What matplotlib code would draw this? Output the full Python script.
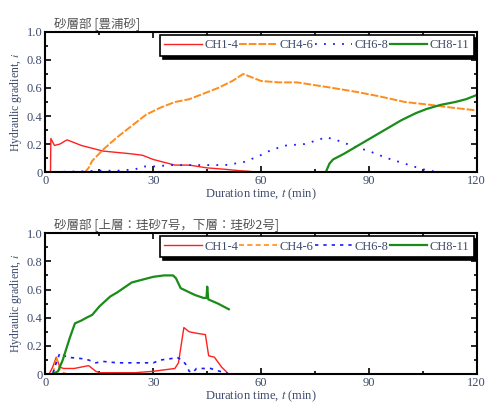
import matplotlib.pyplot as plt
from matplotlib.ticker import MultipleLocator

plt.rcParams['font.family'] = ['Liberation Serif', 'Noto Sans CJK JP']
plt.rcParams['mathtext.fontset'] = 'stix'

TEXT_COLOR = "#3d4a6b"

# upper panel: Toyoura sand
top_title = "砂層部 [豊浦砂]"
top_ch1_4_t = [0, 1.4, 1.5, 2.5, 4, 6, 8, 10, 13, 16, 20, 24, 27, 30, 33, 36, 40, 45, 50, 54, 57, 58]
top_ch1_4_v = [0, 0, 0.24, 0.19, 0.2, 0.23, 0.21, 0.19, 0.17, 0.15, 0.14, 0.13, 0.12, 0.09, 0.07, 0.05, 0.05, 0.03, 0.02, 0.01, 0.005, 0]
top_ch4_6_t = [0, 11, 12, 13, 16, 20, 24, 28, 32, 36, 40, 44, 48, 52, 55, 57, 60, 65, 70, 75, 80, 87, 93, 100, 107, 113, 120]
top_ch4_6_v = [0, 0, 0.03, 0.08, 0.16, 0.25, 0.33, 0.41, 0.46, 0.5, 0.52, 0.56, 0.6, 0.65, 0.7, 0.68, 0.65, 0.64, 0.64, 0.62, 0.6, 0.57, 0.54, 0.5, 0.48, 0.46, 0.44]
top_ch6_8_t = [0, 10, 15, 20, 25, 27, 30, 35, 40, 45, 50, 55, 59, 63, 67, 72, 76, 78, 82, 85, 90, 95, 100, 105, 108, 110]
top_ch6_8_v = [0, 0.005, 0.01, 0.01, 0.02, 0.04, 0.04, 0.05, 0.05, 0.05, 0.05, 0.07, 0.11, 0.16, 0.19, 0.2, 0.23, 0.25, 0.22, 0.19, 0.15, 0.1, 0.06, 0.02, 0.005, 0]
top_ch8_11_t = [0, 78, 79, 80, 83, 87, 91, 95, 99, 103, 106, 110, 114, 117, 120]
top_ch8_11_v = [0, 0, 0.06, 0.09, 0.13, 0.19, 0.25, 0.31, 0.37, 0.42, 0.45, 0.48, 0.5, 0.52, 0.55]

# lower panel: two-layer silica sand
bot_title = "砂層部 [上層：珪砂7号，下層：珪砂2号]"
bot_ch1_4_t = [0, 1, 2, 3, 4, 5, 8, 10, 12, 14, 15, 20, 25, 30, 33, 36, 37, 38.5, 40, 42, 44.5, 45.4, 47, 49, 51]
bot_ch1_4_v = [0, 0, 0.05, 0.12, 0.05, 0.04, 0.04, 0.05, 0.06, 0.02, 0.01, 0.01, 0.01, 0.02, 0.03, 0.04, 0.08, 0.33, 0.3, 0.29, 0.28, 0.13, 0.12, 0.05, 0]
bot_ch4_6_t = [0, 2, 2.5, 3, 3.5, 4, 5, 6]
bot_ch4_6_v = [0, 0, 0.05, 0.12, 0.08, 0.03, 0.01, 0]
bot_ch6_8_t = [0, 2, 3, 4, 6, 10, 12, 14, 16, 20, 25, 30, 32, 35, 36.5, 38, 39, 40, 41, 42, 46, 47, 50, 51]
bot_ch6_8_v = [0, 0, 0.08, 0.15, 0.12, 0.11, 0.1, 0.08, 0.09, 0.08, 0.08, 0.08, 0.1, 0.11, 0.12, 0.1, 0.07, 0.02, 0.01, 0.04, 0.04, 0.03, 0.01, 0]
bot_ch8_11_t = [0, 2, 3.5, 4.8, 6.8, 8.2, 10, 11.4, 13, 15, 18, 20, 24, 27, 30, 33, 35.5, 36.3, 37.6, 40, 41.7, 44, 44.8, 45, 45.3, 48, 51]
bot_ch8_11_v = [0, 0, 0.02, 0.1, 0.26, 0.36, 0.38, 0.4, 0.42, 0.48, 0.55, 0.58, 0.65, 0.67, 0.69, 0.7, 0.7, 0.68, 0.61, 0.58, 0.56, 0.54, 0.54, 0.62, 0.53, 0.5, 0.46]

labels = ["CH1-4", "CH4-6", "CH6-8", "CH8-11"]
colors = ["#ff2020", "#ff8c1a", "#1a1aff", "#1a8c1a"]


def style_axes(ax, title):
    ax.set_xlim(0, 120)
    ax.set_ylim(0, 1.0)
    ax.xaxis.set_major_locator(MultipleLocator(30))
    ax.xaxis.set_minor_locator(MultipleLocator(15))
    ax.yaxis.set_major_locator(MultipleLocator(0.2))
    ax.yaxis.set_minor_locator(MultipleLocator(0.1))
    ax.tick_params(which="both", direction="in", top=True, right=True,
                   colors="black", labelcolor=TEXT_COLOR, labelsize=9, width=1.2)
    ax.tick_params(which="major", length=4, pad=2)
    ax.tick_params(which="minor", length=2.5)
    ax.set_yticks([0, 0.2, 0.4, 0.6, 0.8, 1.0], ["0", "0.2", "0.4", "0.6", "0.8", "1.0"])
    for s in ax.spines.values():
        s.set_linewidth(1.5)
    ax.set_xlabel("Duration time, $t$ (min)", color=TEXT_COLOR, fontsize=9, labelpad=0)
    ax.set_ylabel("Hydraulic gradient, $i$", color=TEXT_COLOR, fontsize=8.5, labelpad=2)
    ax.set_title(title, loc="left", color="#555555", fontsize=9, pad=3,
                 family=['Noto Sans CJK JP', 'Liberation Serif'], x=0.02)


def add_legend(ax):
    leg = ax.legend(loc="upper right", ncol=4, fontsize=9, frameon=True, fancybox=False,
                    shadow={"color": "black", "alpha": 1.0}, edgecolor="black",
                    handlelength=3.0, handletextpad=0.2, columnspacing=0.1,
                    borderaxespad=0.25, borderpad=0.35, labelcolor=TEXT_COLOR)
    leg.get_frame().set_linewidth(1.2)


fig = plt.figure(figsize=(4.89, 4.04), dpi=100)
ax1 = fig.add_axes([0.093, 0.574, 0.882, 0.347])
ax2 = fig.add_axes([0.093, 0.074, 0.882, 0.349])

ax1.plot(top_ch1_4_t, top_ch1_4_v, color=colors[0], lw=1.0, ls="-", label=labels[0])
ax1.plot(top_ch4_6_t, top_ch4_6_v, color=colors[1], lw=1.4, ls=(0, (4, 1)), label=labels[1])
ax1.plot(top_ch6_8_t, top_ch6_8_v, color=colors[2], lw=1.3, ls=(0, (1, 4)), label=labels[2])
ax1.plot(top_ch8_11_t, top_ch8_11_v, color=colors[3], lw=1.6, ls="-", label=labels[3])
style_axes(ax1, top_title)
add_legend(ax1)

ax2.plot(bot_ch1_4_t, bot_ch1_4_v, color=colors[0], lw=1.0, ls="-", label=labels[0])
ax2.plot(bot_ch4_6_t, bot_ch4_6_v, color=colors[1], lw=1.2, ls=(0, (3, 2)), label=labels[1])
ax2.plot(bot_ch6_8_t, bot_ch6_8_v, color=colors[2], lw=1.2, ls=(0, (2, 3)), label=labels[2])
ax2.plot(bot_ch8_11_t, bot_ch8_11_v, color=colors[3], lw=1.6, ls="-", label=labels[3])
style_axes(ax2, bot_title)
add_legend(ax2)

fig.savefig("out.png", dpi=100)
